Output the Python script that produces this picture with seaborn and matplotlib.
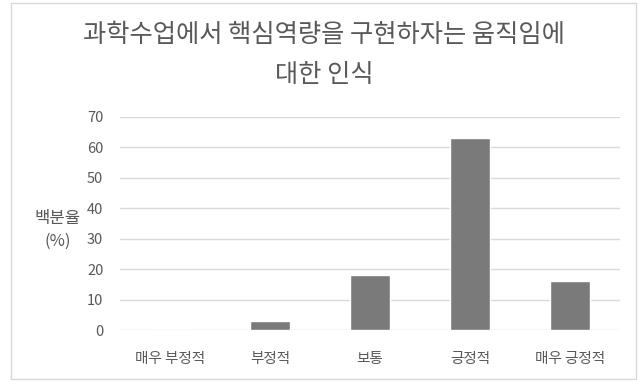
import matplotlib
matplotlib.use("Agg")
import matplotlib.pyplot as plt
import seaborn as sns
import pandas as pd
from matplotlib.patches import Rectangle

categories = ["매우 부정적", "부정적", "보통", "긍정적", "매우 긍정적"]
values = [0, 3, 18, 63, 16]
yticks = [0, 10, 20, 30, 40, 50, 60, 70]
title = "과학수업에서 핵심역량을 구현하자는 움직임에\n대한 인식"
ylabel = "백분율\n(%)"

sns.set_theme(style="white")
plt.rcParams['font.family'] = ['Noto Sans CJK KR', 'DejaVu Sans']

df = pd.DataFrame({"cat": categories, "val": values})

fig = plt.figure(figsize=(6.38, 3.81), dpi=100)
ax = fig.add_axes([120/638, 1-330/381, 500/638, 213/381])

sns.barplot(data=df, x="cat", y="val", color="#7a7a7a", width=0.4,
            saturation=1, ax=ax, zorder=3)

ax.set_ylim(0, 70)
ax.set_yticks(yticks)
ax.set_yticklabels([str(t) for t in yticks])
ax.yaxis.grid(True, color="#d9d9d9", linewidth=1, zorder=0)
ax.set_axisbelow(True)
for s in ax.spines.values():
    s.set_visible(False)
ax.tick_params(axis="both", length=0, colors="#595959", labelsize=10.5)
ax.tick_params(axis="y", pad=12)
ax.tick_params(axis="x", pad=16)
ax.set_xlabel("")
ax.set_ylabel("")

fig.text(58/638, 1-230/381, ylabel, ha="center", va="center",
         fontsize=12, color="#595959", linespacing=1.5)
fig.text(324/638, 1-55/381, title, ha="center", va="center",
         fontsize=18.2, color="#595959", linespacing=1.65)

fig.patches.append(Rectangle((11/638, 2/381), 625/638, 376/381,
                             transform=fig.transFigure, fill=False,
                             edgecolor="#d9d9d9", linewidth=1))

fig.savefig("out.png", dpi=100)
